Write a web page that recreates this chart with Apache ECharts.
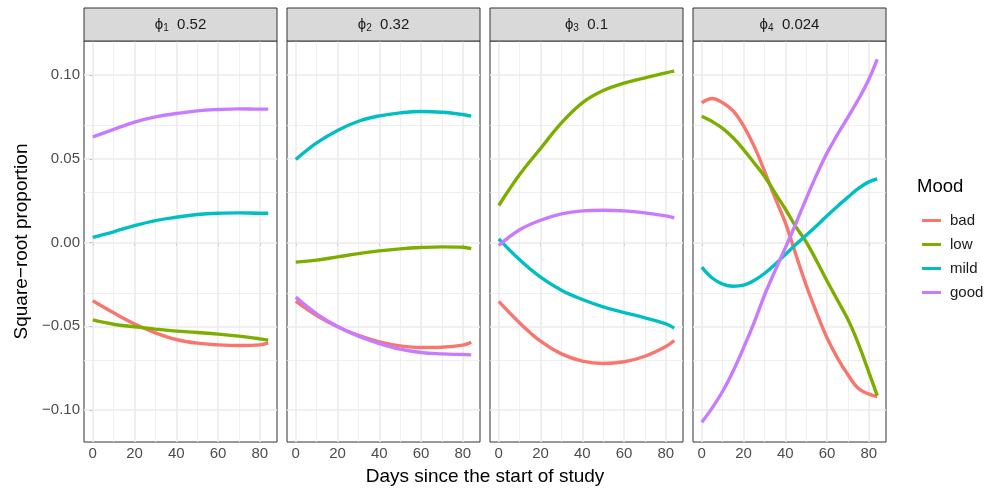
<!DOCTYPE html>
<html>
<head>
<meta charset="utf-8">
<title>Mood facets</title>
<script src="https://cdn.jsdelivr.net/npm/echarts@6/dist/echarts.min.js"></script>
<style>
  html, body { margin: 0; padding: 0; background: #fff; }
</style>
</head>
<body>
<div id="main" style="width: 987px;height: 491px"></div>
<script>
    // 数据
    const moods = ['bad', 'low', 'mild', 'good'];
    const phiIndex = ['1', '2', '3', '4'];
    const phiValue = ['0.52', '0.32', '0.1', '0.024'];
    const xTicks = [0, 20, 40, 60, 80];
    const xGrid = [0, 10, 20, 30, 40, 50, 60, 70, 80];
    const yTicks = [-0.1, -0.05, 0, 0.05, 0.1];
    const yGrid = [-0.1, -0.075, -0.05, -0.025, 0, 0.025, 0.05, 0.075, 0.1];

    const daysCoarse = [0, 10, 20, 30, 40, 50, 60, 70, 80, 84];
    const daysFine = [0, 5, 10, 15, 20, 25, 30, 35, 40, 45, 50, 55, 60, 65, 70, 75, 80, 84];

    const p1Bad = [-0.0348, -0.0420, -0.0486, -0.0539, -0.0579, -0.0601, -0.0611, -0.0615, -0.0611, -0.0599];
    const p1Low = [-0.0462, -0.0488, -0.0503, -0.0517, -0.0529, -0.0537, -0.0547, -0.0559, -0.0575, -0.0583];
    const p1Mild = [0.0030, 0.0064, 0.0101, 0.0131, 0.0151, 0.0167, 0.0175, 0.0177, 0.0175, 0.0175];
    const p1Good = [0.0631, 0.0675, 0.0719, 0.0750, 0.0770, 0.0786, 0.0794, 0.0798, 0.0796, 0.0796];

    const p2Bad = [-0.0350, -0.0436, -0.0503, -0.0555, -0.0593, -0.0617, -0.0627, -0.0625, -0.0613, -0.0595];
    const p2Low = [-0.0117, -0.0105, -0.0086, -0.0066, -0.0050, -0.0038, -0.0030, -0.0026, -0.0028, -0.0036];
    const p2Mild = [0.0496, 0.0595, 0.0669, 0.0724, 0.0756, 0.0774, 0.0782, 0.0778, 0.0764, 0.0754];
    const p2Good = [-0.0326, -0.0426, -0.0501, -0.0559, -0.0603, -0.0637, -0.0657, -0.0665, -0.0669, -0.0671];

    const p3Bad = [-0.0352, -0.0480, -0.0589, -0.0665, -0.0708, -0.0722, -0.0712, -0.0679, -0.0621, -0.0585];
    const p3Low = [0.0221, 0.0406, 0.0561, 0.0714, 0.0834, 0.0907, 0.0951, 0.0983, 0.1013, 0.1023];
    const p3Mild = [0.0022, -0.0103, -0.0207, -0.0285, -0.0340, -0.0384, -0.0418, -0.0450, -0.0486, -0.0511];
    const p3Good = [-0.0018, 0.0076, 0.0133, 0.0171, 0.0189, 0.0193, 0.0189, 0.0177, 0.0159, 0.0147];

    const p4Bad = [0.0834, 0.0860, 0.0834, 0.0786, 0.0697, 0.0577, 0.0428, 0.0269, 0.0119, -0.0070, -0.0255, -0.0420, -0.0570, -0.0690, -0.0790, -0.0872, -0.0905, -0.0920];
    const p4Low = [0.0754, 0.0722, 0.0681, 0.0625, 0.0555, 0.0476, 0.0396, 0.0297, 0.0200, 0.0095, 0.0003, -0.0110, -0.0230, -0.0345, -0.0460, -0.0605, -0.0775, -0.0914];
    const p4Mild = [-0.0147, -0.0212, -0.0248, -0.0261, -0.0255, -0.0227, -0.0185, -0.0131, -0.0072, -0.0012, 0.0043, 0.0100, 0.0160, 0.0217, 0.0271, 0.0323, 0.0362, 0.0380];
    const p4Good = [-0.1073, -0.0987, -0.0888, -0.0768, -0.0629, -0.0480, -0.0315, -0.0171, -0.0032, 0.0112, 0.0262, 0.0405, 0.0535, 0.0645, 0.0748, 0.0855, 0.0975, 0.1093];

    const panelDays = [daysCoarse, daysCoarse, daysCoarse, daysFine];
    const panelValues = [
        [p1Bad, p1Low, p1Mild, p1Good],
        [p2Bad, p2Low, p2Mild, p2Good],
        [p3Bad, p3Low, p3Mild, p3Good],
        [p4Bad, p4Low, p4Mild, p4Good]
    ];

    // 样式 / 布局
    const colors = ['#F8766D', '#7CAE00', '#00BFC4', '#C77CFF'];
    const font = 'Liberation Sans, Arial, Helvetica, sans-serif';
    const panelLeft = [84, 287, 490, 693];
    const panelWidth = 193;
    const panelTop = 41;
    const panelHeight = 401;
    const stripTop = 8;

    function fmtY(v) {
        const s = Math.abs(v).toFixed(2);
        return v < -1e-9 ? '\u2212' + s : s;
    }

    let grids = [], xAxes = [], yAxes = [], series = [], graphics = [];
    panelLeft.forEach((left, i) => {
        grids.push({
            left: left, top: panelTop, width: panelWidth, height: panelHeight,
            show: true, backgroundColor: '#fff', borderColor: '#333', borderWidth: 1
        });
        xAxes.push({
            gridIndex: i, type: 'value', min: -4.2, max: 88.2,
            axisLine: {show: false},
            splitLine: {show: false},
            axisTick: {show: true, length: 3, customValues: xTicks, lineStyle: {color: '#333', width: 1}},
            axisLabel: {customValues: xTicks, color: '#4D4D4D', fontSize: 15, margin: 4, fontFamily: font}
        });
        yAxes.push({
            gridIndex: i, type: 'value', min: -0.1191, max: 0.1203,
            axisLine: {show: false},
            splitLine: {show: false},
            axisTick: {show: i === 0, length: 3, customValues: yTicks, lineStyle: {color: '#333', width: 1}},
            axisLabel: {show: i === 0, customValues: yTicks, color: '#4D4D4D', fontSize: 15, margin: 4,
                fontFamily: font, formatter: fmtY}
        });
        // 网格线
        let gridLines = [];
        xGrid.forEach(v => gridLines.push({xAxis: v, lineStyle: {width: v % 20 === 0 ? 1.6 : 0.8}}));
        yGrid.forEach(v => gridLines.push({
            yAxis: v,
            lineStyle: {width: Math.abs(Math.round(v * 1000) % 50) === 0 ? 1.6 : 0.8}
        }));
        series.push({
            type: 'line', xAxisIndex: i, yAxisIndex: i, data: [], z: 1, silent: true,
            markLine: {
                silent: true, symbol: ['none', 'none'], label: {show: false}, z: 1,
                lineStyle: {type: 'solid', color: '#EBEBEB'}, emphasis: {disabled: true},
                data: gridLines
            }
        });
        moods.forEach((m, k) => {
            const days = panelDays[i];
            series.push({
                type: 'line', name: m, xAxisIndex: i, yAxisIndex: i, z: 3 + k,
                data: days.map((d, j) => [d, panelValues[i][k][j]]),
                smooth: 0.4, showSymbol: false, symbol: 'none',
                lineStyle: {width: 3.4, color: colors[k]},
                itemStyle: {color: colors[k]}
            });
        });
        // 分面标题
        graphics.push({
            type: 'rect', silent: true, z: 10,
            shape: {x: left, y: stripTop, width: panelWidth, height: panelTop - stripTop},
            style: {fill: '#D9D9D9', stroke: '#333', lineWidth: 1}
        });
        graphics.push({
            type: 'text', silent: true, z: 11,
            x: left + panelWidth / 2, y: (stripTop + panelTop) / 2,
            style: {
                text: '{p|\u03D5}{s|' + phiIndex[i] + '}{p|  ' + phiValue[i] + '}',
                align: 'center', verticalAlign: 'middle', fill: '#1A1A1A',
                rich: {
                    p: {fontSize: 15, fontFamily: font, fill: '#1A1A1A'},
                    s: {fontSize: 10, fontFamily: font, fill: '#1A1A1A', padding: [7, 0, 0, 0]}
                }
            }
        });
    });

    graphics.push({
        type: 'text', silent: true, x: 22, y: panelTop + panelHeight / 2, rotation: Math.PI / 2,
        style: {text: 'Square\u2212root proportion', align: 'center', verticalAlign: 'middle',
            fontSize: 19, fontFamily: font, fill: '#000'}
    });
    graphics.push({
        type: 'text', silent: true, x: (panelLeft[0] + panelLeft[3] + panelWidth) / 2, y: 477,
        style: {text: 'Days since the start of study', align: 'center', verticalAlign: 'middle',
            fontSize: 19, fontFamily: font, fill: '#000'}
    });
    graphics.push({
        type: 'text', silent: true, x: 917, y: 187,
        style: {text: 'Mood', align: 'left', verticalAlign: 'middle',
            fontSize: 18.5, fontFamily: font, fill: '#000'}
    });

    let option = {
        animation: false,
        backgroundColor: '#fff',
        textStyle: {fontFamily: font},
        legend: {
            data: moods, orient: 'vertical', left: 917, top: 207,
            icon: 'rect', itemWidth: 19, itemHeight: 3, itemGap: 7,
            selectedMode: false,
            textStyle: {fontSize: 15, color: '#1A1A1A', fontFamily: font, lineHeight: 17, padding: [0, 0, 0, 4]}
        },
        grid: grids,
        xAxis: xAxes,
        yAxis: yAxes,
        series: series,
        graphic: graphics
    };

    let myChart = echarts.init(document.getElementById('main'));
    myChart.setOption(option);
</script>
</body>
</html>
